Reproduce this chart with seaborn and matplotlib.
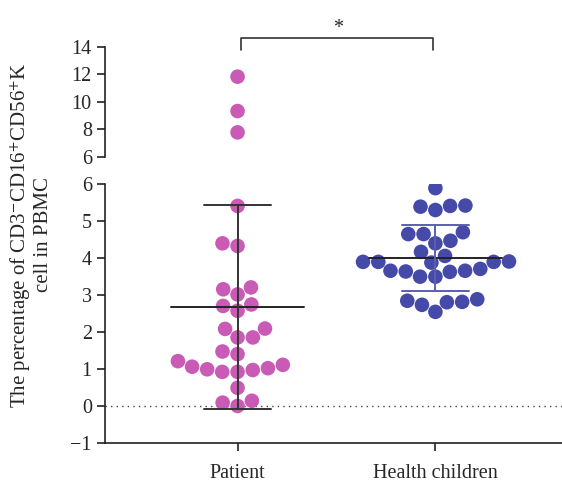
import numpy as np
import pandas as pd
import matplotlib
matplotlib.use("Agg")
import matplotlib.pyplot as plt
import seaborn as sns

categories = ["Patient", "Health children"]
patient = [11.82, 9.32, 7.77,
           5.40, 4.32, 4.39, 3.20, 3.15, 3.01, 2.74, 2.57, 2.70, 2.09, 2.08,
           1.85, 1.85, 1.47, 1.21, 1.06, 0.99, 0.92, 0.92, 0.97, 1.02, 1.11,
           1.40, 0.49, 0.14, 0.00, 0.09]
health = [5.88, 5.38, 5.29, 5.40, 5.41, 4.64, 4.64, 4.69, 4.39, 4.46, 4.05,
          4.16, 3.89, 3.90, 3.87, 3.89, 3.89, 3.65, 3.65, 3.49, 3.49, 3.62,
          3.63, 3.70, 2.84, 2.81, 2.54, 2.73, 2.80, 2.88]
lower_ticks = [-1, 0, 1, 2, 3, 4, 5, 6]
upper_ticks = [6, 8, 10, 12, 14]
colors = {"Patient": "#C95AB6", "Health children": "#454AA8"}
bar_colors = {"Patient": "#333333", "Health children": "#5A5FB0"}

sns.set_style("ticks")
plt.rcParams["font.family"] = ["Liberation Serif", "DejaVu Serif"]
plt.rcParams["mathtext.fontset"] = "stix"

df = pd.DataFrame({
    "group": ["Patient"] * len(patient) + ["Health children"] * len(health),
    "value": patient + health,
})

fig = plt.figure(figsize=(5.62, 4.88), dpi=100)
W, H = 562, 488
left = 105 / W
width = 1 - left
ax_lo = fig.add_axes([left, (H - 443) / H, width, (443 - 183.7) / H])
ax_hi = fig.add_axes([left, (H - 156.7) / H, width, (156.7 - 46.7) / H])

xlim = (-0.67, 1.64)

lo = df[df["value"] < 6]
hi = df[df["value"] >= 6]
sns.swarmplot(data=lo, x="group", y="value", hue="group", order=categories,
              palette=colors, size=10.5, ax=ax_lo, legend=False, linewidth=0)
sns.swarmplot(data=hi, x="group", y="value", hue="group", order=categories,
              palette=colors, size=10.5, ax=ax_hi, legend=False, linewidth=0)

# mean and SD
for i, cat in enumerate(categories):
    vals = np.array(df[df["group"] == cat]["value"])
    m = vals.mean()
    sd = vals.std(ddof=1)
    c = bar_colors[cat]
    ax_lo.plot([i - 0.335, i + 0.335], [m, m], color="#222222", lw=1.4, zorder=3)
    ax_lo.plot([i, i], [m - sd, m + sd], color=c, lw=1.4, zorder=3)
    for v in (m - sd, m + sd):
        ax_lo.plot([i - 0.17, i + 0.17], [v, v], color=c, lw=1.4, zorder=3)

ax_lo.axhline(0, color="#444444", lw=1, ls=(0, (1, 3)), zorder=1)

for ax in (ax_lo, ax_hi):
    ax.set_xlim(*xlim)
    ax.set_xlabel("")
    ax.set_ylabel("")
    ax.spines["top"].set_visible(False)
    ax.spines["right"].set_visible(False)
    ax.tick_params(axis="both", labelsize=14.5, length=6, width=1.2, color="#222222")
    for s in ax.spines.values():
        s.set_linewidth(1.2)
        s.set_color("#222222")

ax_lo.set_ylim(-1, 6)
ax_lo.set_yticks(lower_ticks)
ax_lo.set_xticks(range(len(categories)))
ax_lo.set_xticklabels(categories)
ax_lo.tick_params(axis="x", pad=9)

ax_hi.set_ylim(6, 14)
ax_hi.set_yticks(upper_ticks)
ax_hi.spines["bottom"].set_visible(False)
ax_hi.set_xticks([])

# significance bracket
ax_hi.plot([0.015, 0.015, 0.99, 0.99], [13.76, 14.61, 14.61, 13.76],
           color="#333333", lw=1.2, clip_on=False)
ax_hi.text(0.51, 15.3, "*", ha="center", va="center", fontsize=14.5, clip_on=False)

fig.text(31 / W, 1 - 235 / H,
         "The percentage of CD3$^{-}$CD16$^{+}$CD56$^{+}$K\ncell in PBMC",
         rotation=90, ha="center", va="center", fontsize=15, linespacing=1.1)

fig.savefig("out.png", dpi=100)
